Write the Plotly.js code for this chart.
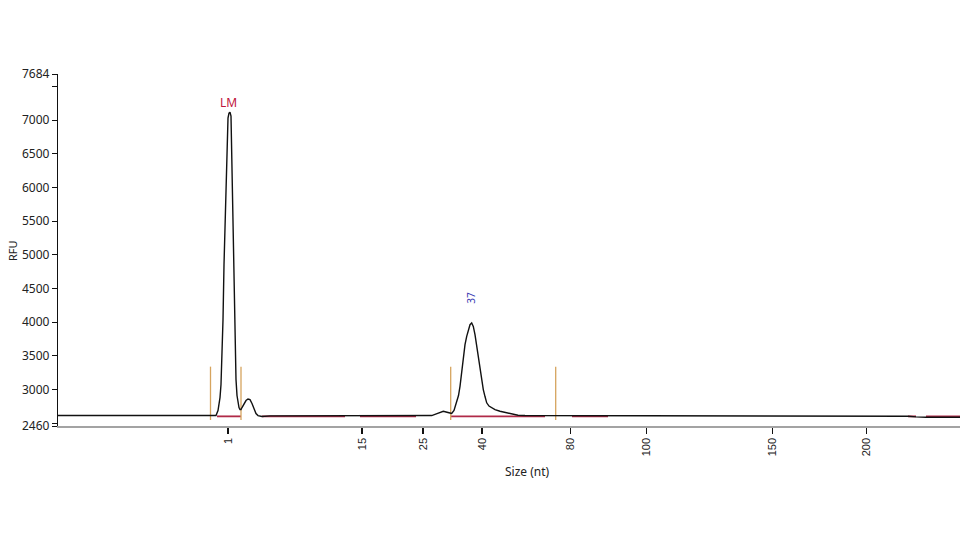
<!DOCTYPE html>
<html>
<head>
<meta charset="utf-8">
<script src="https://cdn.plot.ly/plotly-3.0.1.min.js"></script>
<style>html,body{margin:0;padding:0;background:#fff;}#chart{width:960px;height:540px;}</style>
</head>
<body>
<div id="chart"></div>
<script>
// Electropherogram trace (scan position, RFU)
const scan = [0,100,150,158,160,162,163,164,165,166,167,168,169,170,171,172,173,174,175,176,177,178,179,180,181,182,183,184,186,188,190,192,194,196,198,200,204,212,280,300,350,373.7,379,385.3,390,393.7,396,398.7,400.5,402,403.5,405.3,407,408.7,410.3,412,413.7,415.3,417,418.7,420.3,422,423.7,425.3,427,428.7,431,433.7,437,442,447,452,460,467,550,700,850,858,868,902];
const rfu  = [2615,2615,2615,2615,2690,2882,3075,3474,4037,4852,5489,6036,6777,7029,7103,7118,7058,6185,5222,4333,3593,3149,2912,2793,2734,2704,2704,2734,2793,2838,2860,2852,2793,2704,2645,2615,2601,2610,2615,2612,2615,2615,2645,2679,2660,2645,2690,2804,2912,3049,3267,3494,3667,3790,3889,3963,3988,3938,3815,3642,3474,3297,3134,3000,2897,2804,2756,2730,2704,2679,2660,2641,2620,2615,2615,2612,2605,2595,2590,2590];

// Peak-window markers (scan positions) and their RFU extent
const markerScans = [152.5, 183, 392.7, 497.7];
const markerLow = 2549, markerHigh = 3341;

// Baseline segments (scan start, scan end) and RFU level
const baseStart = [159, 204, 302, 393, 514, 850, 868];
const baseEnd   = [183, 287, 358, 487, 550, 858, 902];
const baseLevel = 2603;

// Size-standard tick positions and labels
const sizeTickScans  = [170, 304, 365, 424, 512.7, 588.3, 714.3, 808.7];
const sizeTickLabels = ['1','15','25','40','80','100','150','200'];

// Y ticks
const rfuTicks = [2460,2500,3000,3500,4000,4500,5000,5500,6000,6500,7000,7500,7684];
const rfuTickText = ['2460','','3000','3500','4000','4500','5000','5500','6000','6500','7000','','7684'];

// Peak labels
const peakLabels = [{text:'LM', scan:170, rfu:7266, color:'#c0143c', angle:0, size:12},
                    {text:'37', scan:413, rfu:4363, color:'#3b3bb3', angle:-90, size:10}];

const traces = [];
// baseline segments
const bx = [], by = [];
for (let i = 0; i < baseStart.length; i++) {
  bx.push(baseStart[i], baseEnd[i], null);
  by.push(baseLevel, baseLevel, null);
}
traces.push({x: bx, y: by, mode: 'lines', line: {color: '#b02a48', width: 1.8}, hoverinfo: 'skip', showlegend: false});
// markers
const mx = [], my = [];
markerScans.forEach(s => { mx.push(s, s, null); my.push(markerLow, markerHigh, null); });
traces.push({x: mx, y: my, mode: 'lines', line: {color: '#d6a45e', width: 1.3}, hoverinfo: 'skip', showlegend: false});
// main trace
traces.push({x: scan, y: rfu, mode: 'lines', line: {color: '#111111', width: 1.4}, showlegend: false});

const annotations = peakLabels.map(p => ({
  x: p.scan, y: p.rfu, xref: 'x', yref: 'y', text: p.text, showarrow: false,
  textangle: p.angle, font: {family: 'Noto Sans, Open Sans, sans-serif', size: p.size, color: p.color}
}));
annotations.push({xref: 'paper', yref: 'paper', x: 0.521, y: -0.129, text: 'Size (nt)', showarrow: false,
  xanchor: 'center', yanchor: 'middle', font: {family: 'Noto Sans, Open Sans, sans-serif', size: 12, color: '#222'}});
annotations.push({xref: 'paper', yref: 'paper', x: -0.051, y: 0.5, text: 'RFU', showarrow: false, textangle: -90,
  xanchor: 'center', yanchor: 'middle', font: {family: 'Noto Sans, Open Sans, sans-serif', size: 11, color: '#222'}});

const layout = {
  width: 960, height: 540,
  margin: {l: 58, r: 0, t: 74, b: 114},
  paper_bgcolor: '#fff', plot_bgcolor: '#fff',
  xaxis: {
    range: [0, 902], showgrid: false, zeroline: false,
    showline: true, linecolor: '#a3a3a3', linewidth: 1.5,
    tickmode: 'array', tickvals: sizeTickScans, ticktext: sizeTickLabels,
    ticks: 'outside', ticklen: 6, tickwidth: 1.3, tickcolor: '#111',
    tickangle: -90, tickfont: {family: 'Liberation Sans, Arial, sans-serif', size: 11, color: '#222'}
  },
  yaxis: {
    range: [2460, 7684], showgrid: false, zeroline: false,
    showline: true, linecolor: '#111', linewidth: 1.2,
    tickmode: 'array', tickvals: rfuTicks, ticktext: rfuTickText,
    ticks: 'outside', ticklen: 5, tickwidth: 1, tickcolor: '#111',
    tickfont: {family: 'Noto Sans, Open Sans, sans-serif', size: 12, color: '#222'}
  },
  annotations: annotations
};

Plotly.newPlot('chart', traces, layout, {displayModeBar: false, staticPlot: true});
</script>
</body>
</html>
